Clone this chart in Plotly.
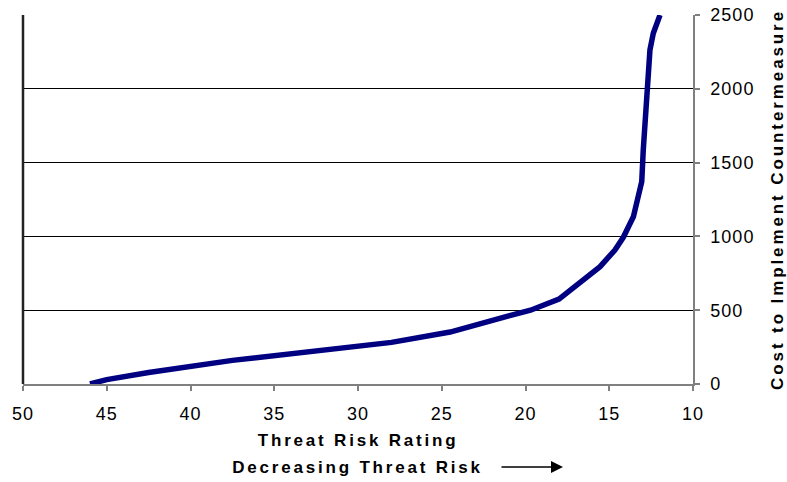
import plotly.graph_objects as go

# Data
threat_risk = [46.0, 45.0, 42.5, 37.5, 28.0, 24.5, 21.0, 19.7, 18.0, 16.35,
               15.55, 14.66, 14.16, 13.56, 13.06, 12.97, 12.71, 12.57, 12.37, 11.97]
cost = [0, 30, 78, 160, 282, 352, 462, 500, 575, 716,
        795, 908, 994, 1133, 1371, 1585, 2003, 2263, 2376, 2500]

x_ticks = [50, 45, 40, 35, 30, 25, 20, 15, 10]
y_ticks = [0, 500, 1000, 1500, 2000, 2500]

x_title_1 = "Threat Risk Rating"
x_title_2 = "Decreasing Threat Risk"
y_title = "Cost to Implement Countermeasure"

FONT = "Liberation Sans, Arial, sans-serif"

fig = go.Figure()
fig.add_trace(go.Scatter(
    x=threat_risk, y=cost, mode="lines",
    line=dict(color="#000080", width=5.5),
    showlegend=False, hoverinfo="skip",
))

fig.update_layout(
    width=787, height=482,
    margin=dict(l=23, r=94, t=15, b=98, autoexpand=False),
    paper_bgcolor="white", plot_bgcolor="white",
    font=dict(family=FONT, size=18, color="black"),
    xaxis=dict(
        range=[50, 10], tickvals=x_ticks, ticktext=[str(v) for v in x_ticks],
        showgrid=False, zeroline=False,
        showline=True, linecolor="#808080", linewidth=1.5,
        ticks="outside", ticklen=5, tickcolor="#808080", tickwidth=1.5,
        ticklabelstandoff=8,
        tickfont=dict(family=FONT, size=18, color="black"),
    ),
    yaxis=dict(
        range=[0, 2500], side="right", tickvals=y_ticks,
        ticktext=[str(v) for v in y_ticks],
        showgrid=True, gridcolor="black", gridwidth=1,
        zeroline=False,
        showline=True, linecolor="#808080", linewidth=1.5,
        ticks="outside", ticklen=5, tickcolor="#808080", tickwidth=1.5,
        ticklabelstandoff=7,
        tickfont=dict(family=FONT, size=18, color="black"),
    ),
    shapes=[
        dict(type="line", xref="x domain", yref="y domain",
             x0=0, x1=0, y0=0, y1=1, line=dict(color="#222222", width=2.5)),
    ],
    annotations=[
        dict(text="<b>" + x_title_1 + "</b>", xref="paper", yref="paper",
             x=0.5, y=-0.154, showarrow=False, xanchor="center", yanchor="middle",
             font=dict(family=FONT, size=17, color="black")),
        dict(text="<b>" + x_title_2 + "</b>", xref="paper", yref="paper",
             x=0.5, y=-0.225, showarrow=False, xanchor="center", yanchor="middle",
             font=dict(family=FONT, size=17, color="black")),
        dict(text="", xref="paper", yref="paper", x=0.806, y=-0.225,
             ax=-63, ay=0, showarrow=True, arrowhead=2, arrowsize=1.6,
             arrowwidth=1.5, arrowcolor="black"),
        dict(text="<b>" + y_title + "</b>", xref="paper", yref="paper",
             x=1.1254, y=0.5, showarrow=False, textangle=-90,
             xanchor="center", yanchor="middle", name="ytitle",
             font=dict(family=FONT, size=17, color="black")),
    ],
)

post = """
document.body.style.margin='0';
var ann = document.querySelectorAll('.annotation-text');
ann.forEach(function(t){
  t.style.letterSpacing = (t.textContent.indexOf('Cost') === 0) ? '2.9px' : '2.8px';
});
document.querySelectorAll('.xtick text, .ytick text').forEach(function(t){t.style.letterSpacing='1px';});
"""
fig.write_html("out.html", post_script=post, config={"displayModeBar": False})
